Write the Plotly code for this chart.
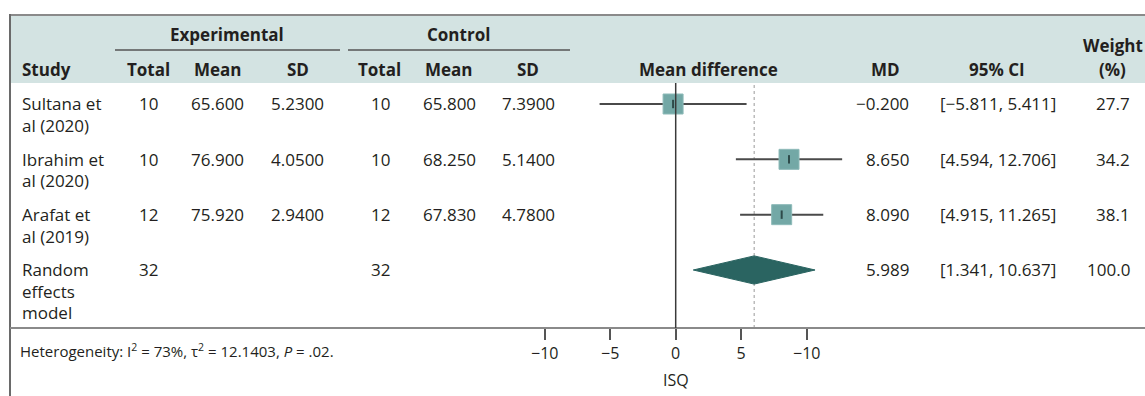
import plotly.graph_objects as go

# ---------------- data ----------------
study_labels = ["Sultana et\nal (2020)", "Ibrahim et\nal (2020)", "Arafat et\nal (2019)"]
exp_total = [10, 10, 12]
exp_mean = [65.600, 76.900, 75.920]
exp_sd = [5.2300, 4.0500, 2.9400]
ctl_total = [10, 10, 12]
ctl_mean = [65.800, 68.250, 67.830]
ctl_sd = [7.3900, 5.1400, 4.7800]
md = [-0.200, 8.650, 8.090]
ci_lo = [-5.811, 4.594, 4.915]
ci_hi = [5.411, 12.706, 11.265]
weight = [27.7, 34.2, 38.1]

pooled_label = "Random\neffects\nmodel"
pooled_exp_total = 32
pooled_ctl_total = 32
pooled_md = 5.989
pooled_lo = 1.341
pooled_hi = 10.637
pooled_weight = 100.0

tick_vals = [-10, -5, 0, 5, 10]
tick_text = ["\u221210", "\u22125", "0", "5", "\u221210"]
axis_title = "ISQ"
heterogeneity = "Heterogeneity: I<sup>2</sup> = 73%, \u03c4<sup>2</sup> = 12.1403, <i>P</i> = .02."

# ---------------- layout constants ----------------
W, H = 1145, 396
FONT = "Open Sans"
TXT = "#231F20"
FS = 17

def px(x):
    return x / W

def py(y):
    return 1 - y / H

def fmt(v, d):
    s = f"{v:.{d}f}"
    return s.replace("-", "\u2212")

rows = [4, 3, 2]
pooled_row = 1
LINE = 21.5

fig = go.Figure()

# CI lines
xs, ys = [], []
for lo, hi, r in zip(ci_lo, ci_hi, rows):
    xs += [lo, hi, None]
    ys += [r, r, None]
fig.add_trace(go.Scatter(x=xs, y=ys, mode="lines", line=dict(color="#4a4a4a", width=2),
                         hoverinfo="skip", showlegend=False))
# squares
fig.add_trace(go.Scatter(x=md, y=rows, mode="markers",
                         marker=dict(symbol="square", size=20, color="#73A8A6",
                                     line=dict(color="#8DBAB8", width=1)),
                         showlegend=False))
# small marks inside squares
fig.add_trace(go.Scatter(x=md, y=rows, mode="markers",
                         marker=dict(symbol="line-ns", size=6,
                                     line=dict(color="#2E4B4A", width=2)),
                         showlegend=False, hoverinfo="skip"))
# diamond
h = 0.255
fig.add_trace(go.Scatter(x=[pooled_lo, pooled_md, pooled_hi, pooled_md, pooled_lo],
                         y=[pooled_row, pooled_row + h, pooled_row, pooled_row - h, pooled_row],
                         mode="lines", fill="toself", fillcolor="#2A6461",
                         line=dict(color="#2A6461", width=1), showlegend=False))

# ---------------- shapes ----------------
shapes = []
shapes.append(dict(type="rect", xref="paper", yref="paper", x0=px(10), x1=1, y0=py(83), y1=py(15),
                   fillcolor="#D3E3E2", line=dict(width=0), layer="below"))
shapes.append(dict(type="line", xref="paper", yref="paper", x0=px(9), x1=1, y0=py(15), y1=py(15),
                   line=dict(color="#8a8a8a", width=2)))
shapes.append(dict(type="line", xref="paper", yref="paper", x0=px(10), x1=px(10), y0=py(14), y1=0,
                   line=dict(color="#6a6a6a", width=2)))
shapes.append(dict(type="line", xref="paper", yref="paper", x0=px(10), x1=1, y0=py(328), y1=py(328),
                   line=dict(color="#8a8a8a", width=2)))
shapes.append(dict(type="line", xref="paper", yref="paper", x0=px(115), x1=px(340), y0=py(50), y1=py(50),
                   line=dict(color="#555", width=1.5)))
shapes.append(dict(type="line", xref="paper", yref="paper", x0=px(348), x1=px(570), y0=py(50), y1=py(50),
                   line=dict(color="#555", width=1.5)))
shapes.append(dict(type="line", xref="x", yref="y domain", x0=0, x1=0, y0=0, y1=1,
                   line=dict(color="#3a3a3a", width=1.5), layer="above"))
shapes.append(dict(type="line", xref="x", yref="y domain", x0=pooled_md, x1=pooled_md, y0=0, y1=1,
                   line=dict(color="#999", width=1, dash="dot"), layer="below"))

# ---------------- annotations ----------------
anns = []

def ann(text, x, y, xanchor="center", bold=False, size=FS, yref="paper", yshift=0):
    t = f"<b>{text}</b>" if bold else text
    anns.append(dict(text=t, x=x, y=y, xref="paper", yref=yref, xanchor=xanchor, yanchor="middle",
                     showarrow=False, yshift=yshift, font=dict(family=FONT, size=size, color=TXT)))

ann("Experimental", px(227), py(34), bold=True)
ann("Control", px(458), py(34), bold=True)
ann("Weight", px(1113), py(46), bold=True)
hdr_y = py(69)
ann("Study", px(20), hdr_y, xanchor="left", bold=True)
for lab, xc in [("Total", 148), ("Mean", 218), ("SD", 298), ("Total", 379), ("Mean", 449),
                ("SD", 528), ("Mean difference", 708), ("MD", 885), ("95% CI", 997), ("(%)", 1112)]:
    ann(lab, px(xc), hdr_y, bold=True)

def row_text(label, r, cells):
    for k, line in enumerate(label.split("\n")):
        ann(line, px(20), r, xanchor="left", yref="y", yshift=-LINE * k)
    for txt, xc, xa in cells:
        ann(txt, px(xc), r, xanchor=xa, yref="y")

for i, r in enumerate(rows):
    row_text(study_labels[i], r, [
        (str(exp_total[i]), 148, "center"),
        (fmt(exp_mean[i], 3), 217, "center"),
        (fmt(exp_sd[i], 4), 298, "center"),
        (str(ctl_total[i]), 380, "center"),
        (fmt(ctl_mean[i], 3), 449, "center"),
        (fmt(ctl_sd[i], 4), 528, "center"),
        (fmt(md[i], 3), 911, "right"),
        (f"[{fmt(ci_lo[i], 3)}, {fmt(ci_hi[i], 3)}]", 998, "center"),
        (f"{weight[i]:.1f}", 1132, "right"),
    ])

row_text(pooled_label, pooled_row, [
    (str(pooled_exp_total), 148, "center"),
    (str(pooled_ctl_total), 380, "center"),
    (fmt(pooled_md, 3), 911, "right"),
    (f"[{fmt(pooled_lo, 3)}, {fmt(pooled_hi, 3)}]", 998, "center"),
    (f"{pooled_weight:.1f}", 1132, "right"),
])

ann(heterogeneity, px(18), py(350), xanchor="left", size=15)
ann(axis_title, px(676), py(380), size=16)

# ---------------- axes ----------------
zero_px, scale = 675.7, 13.1
x_range = [-zero_px / scale, (W - zero_px) / scale]
top_px, bot_px, row_top_px, row_step = 83, 328, 104, 55.33
y_range = [4 - (bot_px - row_top_px) / row_step, 4 + (row_top_px - top_px) / row_step]

fig.update_layout(
    width=W, height=H, margin=dict(l=0, r=0, t=0, b=0),
    paper_bgcolor="white", plot_bgcolor="rgba(0,0,0,0)",
    shapes=shapes, annotations=anns, showlegend=False,
    xaxis=dict(domain=[0, 1], range=x_range, showgrid=False, zeroline=False, showline=False,
               tickmode="array", tickvals=tick_vals, ticktext=tick_text,
               ticks="outside", ticklen=11, tickwidth=1.5, tickcolor="#555",
               tickfont=dict(family=FONT, size=16, color=TXT), fixedrange=True),
    yaxis=dict(domain=[(H - bot_px) / H, (H - top_px) / H], range=y_range, visible=False,
               fixedrange=True),
    font=dict(family=FONT, color=TXT),
)

fig.write_html("out.html", config={"displayModeBar": False},
               post_script="document.body.style.margin='0';document.body.style.overflow='hidden';")
